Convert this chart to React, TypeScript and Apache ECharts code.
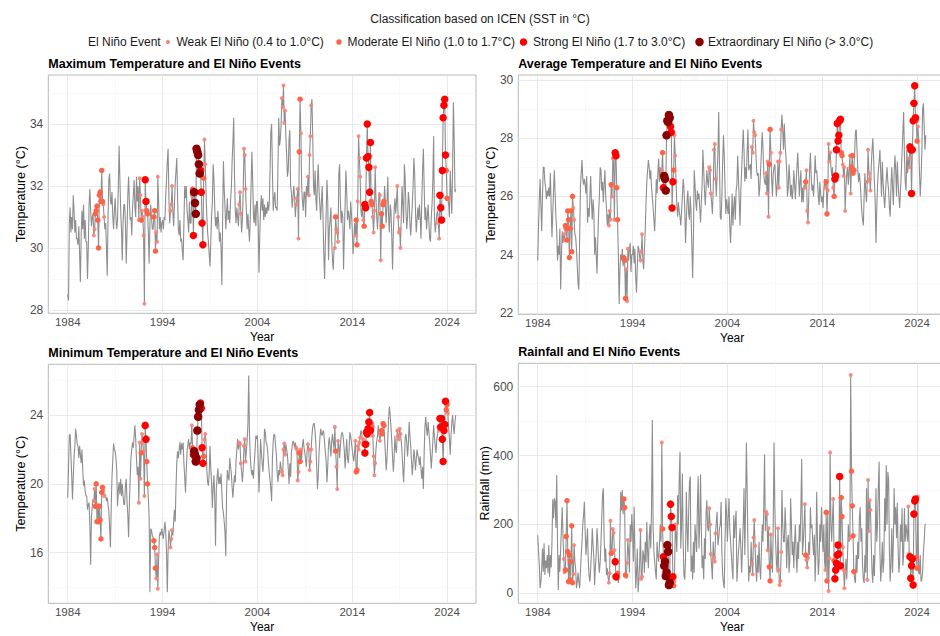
import React, { useEffect, useRef } from "react";
import * as echarts from "echarts";

const FONT = '"Liberation Sans", Arial, Helvetica, sans-serif';
const FIRST_YEAR = 1984;

// ---------- tick labels ----------
const xTicks = [1984, 1994, 2004, 2014, 2024];
const xMinorTicks = [1989, 1999, 2009, 2019];
const tmaxTicks = [28, 30, 32, 34];
const tmaxMinor = [29, 31, 33, 35];
const tavgTicks = [22, 24, 26, 28, 30];
const tavgMinor = [23, 25, 27, 29];
const tminTicks = [16, 20, 24];
const tminMinor = [14, 18, 22, 26];
const rainTicks = [0, 200, 400, 600];
const rainMinor = [100, 300, 500];

// ---------- monthly series, Jan 1984 .. Dec 2024 ----------
const tmax = [
  28.5, 28.3, 30.8, 31.3, 30.5, 31.0, 30.6, 31.7, 31.2, 30.5, 30.9, 30.3,
  30.3, 30.1, 30.7, 29.8, 28.9, 30.4, 31.2, 30.6, 31.4, 30.3, 30.9, 30.2,
  30.2, 29.0, 30.0, 31.4, 31.9, 31.2, 30.7, 31.0, 31.1, 30.4, 30.6, 31.1,
  31.2, 31.35, 30.9, 30.0, 31.7, 31.8, 31.5, 32.5, 31.5, 31.4, 31.0, 30.6,
  30.8, 30.0, 29.1, 31.0, 32.2, 32.4, 31.5, 31.4, 31.8, 31.0, 30.6, 31.2,
  31.6, 31.0, 30.6, 30.9, 32.0, 33.3, 32.2, 31.2, 30.6, 29.6, 30.8, 31.4,
  31.4, 30.8, 29.5, 30.5, 31.7, 32.3, 31.5, 30.9, 31.0, 30.4, 31.3, 31.7,
  32.2, 31.3, 31.0, 32.3, 31.5, 32.0, 30.9, 32.25, 31.7, 30.9, 31.2, 31.0,
  30.4, 28.2, 32.2, 31.5, 31.2, 31.1, 30.5, 29.5, 30.8, 31.4, 31.0, 30.6,
  30.6, 31.0, 31.2, 29.9, 30.5, 30.2, 32.3, 31.5, 30.6, 31.0, 30.5, 30.8,
  30.9, 30.6, 31.0, 30.9, 31.7, 32.2, 32.8, 33.2, 31.6, 30.8, 31.2, 31.4,
  32.0, 31.2, 30.7, 31.4, 32.1, 32.5, 32.9, 31.6, 30.6, 30.4, 30.9, 30.2,
  30.3, 29.9, 29.6, 30.8, 32.0, 31.6, 32.0, 31.2, 30.9, 30.5, 31.5, 30.8,
  30.8, 31.7, 31.9, 30.4, 31.8, 31.45, 31.1, 33.2, 33.1, 33.0, 32.7, 32.4,
  32.5, 31.8, 30.8, 30.1, 32.25, 33.5, 32.7, 31.8, 31.0, 30.5, 30.2, 29.8,
  29.4, 30.2, 31.0, 31.5, 32.7, 32.2, 31.3, 30.7, 31.0, 30.6, 31.2, 30.8,
  30.2, 30.5, 30.0, 28.8, 30.9, 32.8, 31.9, 31.3, 30.6, 31.1, 31.6, 30.9,
  31.2, 30.8, 31.5, 31.9, 32.8, 33.4, 34.2, 32.4, 31.2, 30.8, 31.3, 31.0,
  30.7, 31.4, 31.8, 31.1, 30.5, 30.9, 31.8, 33.2, 33.0, 31.9, 31.2, 30.6,
  31.1, 30.6, 30.2, 31.0, 32.0, 33.1, 32.2, 31.0, 30.8, 31.4, 30.7, 31.5,
  31.5, 30.8, 29.2, 30.4, 31.3, 31.7, 31.2, 31.6, 30.9, 31.4, 31.0, 31.3,
  31.1, 31.5, 31.2, 31.4, 32.5, 33.75, 34.0, 32.5, 31.2, 31.6, 31.8, 31.3,
  31.3, 31.2, 32.6, 34.2, 33.3, 33.5, 34.0, 34.83, 34.54, 35.24, 34.04, 34.43,
  33.6, 33.0, 32.3, 32.5, 33.5, 33.8, 32.0, 31.8, 31.3, 31.6, 32.0, 31.7,
  31.0, 31.4, 31.6, 31.9, 30.3, 33.1, 34.8, 33.7, 32.0, 31.5, 31.2, 31.8,
  31.8, 31.0, 32.0, 31.7, 32.3, 31.7, 33.0, 33.6, 34.6, 34.8, 33.6, 32.0,
  31.7, 32.5, 31.6, 31.2, 32.2, 32.7, 31.8, 31.4, 30.9, 31.5, 32.0, 31.0,
  29.8, 29.0, 30.2, 31.1, 32.2, 31.5, 29.6, 30.6, 30.9, 31.3, 30.2, 29.6,
  29.3, 30.0, 30.0, 31.0, 30.6, 30.5, 30.2, 32.4, 32.7, 31.5, 30.8, 31.2,
  31.0, 29.3, 30.5, 31.4, 32.5, 31.8, 30.9, 31.2, 31.0, 30.6, 31.5, 31.1,
  30.6, 29.8, 30.2, 30.8, 30.4, 30.9, 30.1, 31.5, 33.6, 32.9, 32.3, 31.2,
  31.0, 31.4, 30.9, 30.7, 31.4, 31.3, 32.9, 34.0, 32.95, 32.6, 31.8, 33.4,
  31.5, 31.4, 31.0, 30.5, 31.2, 32.6, 31.6, 31.0, 30.6, 31.2, 31.8, 31.7,
  29.6, 31.1, 30.7, 31.4, 31.5, 32.0, 31.3, 30.8, 31.5, 32.3, 31.0, 30.5,
  31.4, 31.2, 30.4, 29.3, 30.5, 31.2, 31.6, 31.1, 31.5, 32.0, 31.0, 30.5,
  30.6, 30.0, 31.0, 32.0, 31.4, 30.8, 32.7, 32.2, 31.2, 30.6, 31.0, 31.8,
  31.5, 30.8, 30.4, 30.9, 31.4, 32.0, 32.9, 32.4, 31.2, 30.5, 30.9, 31.3,
  30.9, 31.4, 31.0, 30.3, 31.5, 32.5, 33.2, 32.0, 30.9, 31.3, 30.6, 31.0,
  31.4, 30.8, 30.3, 30.2, 31.0, 31.4, 32.2, 33.6, 31.0, 30.5, 30.8, 31.1,
  31.2, 30.8, 30.3, 31.7, 31.3, 30.9, 32.5, 34.2, 34.6, 34.8, 33.0, 32.5,
  31.6, 31.6, 31.4, 31.0, 32.5, 31.8, 31.1, 32.6, 34.7, 33.5, 31.8, 31.9,
];

const tavg = [
  23.8, 25.0, 25.9, 26.6, 25.7, 24.8, 26.0, 27.0, 27.0, 26.5, 26.3, 25.9,
  26.2, 26.0, 26.3, 26.0, 26.8, 25.6, 24.6, 25.4, 26.2, 26.9, 26.1, 25.3,
  24.8, 23.8, 24.3, 24.0, 24.9, 22.8, 24.0, 24.8, 24.4, 24.7, 24.5, 25.0,
  24.9, 24.5, 25.5, 25.2, 23.9, 24.9, 25.5, 24.1, 26.0, 25.6, 25.2, 24.7,
  24.6, 24.2, 23.6, 23.0, 22.8, 24.5, 26.3, 26.8, 27.25, 26.6, 26.4, 26.6,
  26.4, 26.1, 26.7, 25.1, 25.6, 25.3, 26.0, 26.7, 25.8, 25.2, 25.9, 25.5,
  24.0, 24.6, 24.0, 23.35, 24.5, 25.4, 26.0, 27.0, 26.9, 26.2, 26.5, 25.8,
  26.4, 26.9, 26.0, 25.6, 25.0, 25.4, 25.0, 25.5, 25.2, 26.4, 26.0, 27.3,
  27.3, 25.2, 27.5, 27.4, 26.3, 25.2, 24.0, 22.3, 23.5, 24.0, 23.8, 24.2,
  23.6, 23.9, 23.8, 22.5, 23.5, 22.4, 24.2, 23.8, 24.2, 24.4, 23.4, 24.0,
  24.0, 24.3, 23.7, 24.2, 23.2, 22.7, 23.6, 24.3, 24.2, 23.9, 23.8, 24.1,
  24.7, 23.8, 23.5, 24.2, 24.8, 25.8, 26.5, 26.9, 27.25, 27.0, 26.6, 26.9,
  26.3, 26.0, 25.6, 25.2, 24.8, 25.6, 26.6, 26.1, 26.8, 27.3, 26.5, 27.0,
  26.6, 26.9, 27.5, 26.3, 26.7, 26.6, 26.2, 28.1, 28.6, 28.55, 28.8, 28.7,
  28.4, 28.2, 25.6, 26.5, 26.9, 28.1, 27.4, 26.5, 25.7, 25.3, 25.8, 25.5,
  25.3, 25.0, 25.5, 26.0, 26.6, 26.3, 25.6, 24.4, 25.2, 25.9, 26.2, 25.4,
  25.2, 26.0, 25.4, 24.3, 23.2, 24.6, 26.9, 26.4, 25.8, 25.5, 26.2, 25.9,
  26.1, 25.6, 25.1, 25.8, 26.4, 27.6, 26.9, 26.2, 25.7, 26.3, 26.9, 26.5,
  26.3, 27.0, 26.9, 26.1, 25.8, 25.4, 26.2, 27.6, 27.8, 26.6, 26.0, 26.8,
  27.5, 28.9, 27.0, 25.3, 25.2, 26.0, 27.2, 28.1, 27.4, 26.3, 25.4, 25.9,
  25.6, 25.4, 26.0, 25.0, 24.4, 25.2, 26.1, 25.0, 25.6, 26.0, 25.2, 26.2,
  26.4, 27.4, 26.6, 25.8, 25.0, 26.2, 26.9, 27.6, 28.3, 27.6, 26.5, 27.0,
  26.6, 27.6, 28.3, 26.9, 27.0, 27.1, 26.6, 27.7, 27.5, 28.6, 28.2, 28.1,
  27.5, 26.9, 26.7, 26.8, 26.0, 26.3, 26.9, 27.5, 28.2, 27.7, 26.8, 26.5,
  26.4, 26.8, 26.1, 27.2, 25.3, 27.1, 28.3, 27.5, 26.6, 26.0, 26.8, 27.0,
  27.1, 26.5, 26.0, 26.4, 27.2, 26.3, 27.2, 27.5, 28.3, 28.8, 28.3, 27.6,
  28.5, 27.8, 27.4, 26.9, 26.0, 26.3, 27.1, 26.6, 26.0, 26.4, 25.9, 26.2,
  26.9, 26.4, 25.9, 26.5, 27.0, 27.5, 26.8, 26.0, 26.5, 26.9, 25.8, 26.3,
  25.8, 26.4, 26.3, 26.5, 26.9, 25.5, 25.1, 26.0, 26.9, 27.5, 26.7, 26.2,
  26.4, 26.0, 26.6, 27.4, 26.8, 26.9, 26.5, 26.0, 25.7, 26.5, 26.1, 25.8,
  26.0, 25.6, 26.2, 26.6, 26.3, 26.5, 25.4, 26.2, 27.8, 27.2, 27.5, 27.0,
  26.7, 27.0, 26.3, 26.0, 26.6, 26.7, 27.6, 28.5, 27.9, 28.1, 28.6, 28.65,
  27.5, 27.4, 27.1, 26.7, 27.0, 25.5, 26.3, 26.8, 27.0, 26.4, 26.9, 27.4,
  26.1, 27.0, 27.4, 26.8, 26.9, 27.5, 28.2, 28.3, 27.6, 26.9, 26.5, 26.8,
  26.5, 26.0, 25.5, 25.2, 25.0, 26.0, 26.8, 26.2, 25.8, 26.5, 27.6, 26.8,
  26.6, 26.2, 27.0, 27.6, 28.0, 27.3, 26.5, 25.8, 24.4, 25.6, 26.4, 26.9,
  27.2, 27.6, 26.8, 26.0, 27.2, 26.5, 26.0, 25.6, 26.1, 26.6, 27.0, 26.5,
  26.2, 25.6, 25.3, 26.4, 27.0, 26.3, 25.7, 26.8, 27.4, 26.9, 26.0, 27.2,
  26.5, 26.0, 25.6, 26.2, 26.8, 27.5, 28.2, 28.9, 27.4, 26.5, 26.2, 27.6,
  26.8, 27.3, 27.0, 27.7, 27.6, 26.1, 27.6, 28.6, 29.2, 29.8, 28.7, 28.6,
  27.9, 28.4, 28.0, 26.9, 26.0, 26.6, 27.5, 29.0, 29.2, 28.4, 27.6, 28.1,
];

const tmin = [
  19.2, 21.0, 22.8, 22.9, 21.7, 20.5, 19.1, 20.4, 21.6, 22.2, 23.2, 22.8,
  22.3, 22.2, 21.5, 22.2, 21.7, 21.2, 22.0, 20.8, 19.9, 20.2, 19.6, 19.3,
  19.3, 18.5, 18.8, 18.9, 17.6, 15.3, 18.1, 18.7, 19.1, 19.0, 19.7, 18.7,
  20.0, 17.8, 18.7, 17.8, 18.7, 17.9, 16.8, 19.5, 19.8, 19.6, 19.3, 19.4,
  19.3, 19.0, 19.2, 18.8, 18.4, 17.5, 16.3, 18.6, 20.4, 21.4, 22.35, 22.0,
  21.9, 21.5, 20.8, 18.7, 19.6, 20.1, 19.4, 20.3, 19.3, 20.0, 19.3, 18.8,
  18.8, 19.9, 20.3, 19.0, 18.2, 16.9, 18.8, 20.3, 21.5, 22.0, 22.4, 22.1,
  22.8, 23.4, 22.6, 21.4, 20.5, 21.0, 18.9, 22.4, 20.3, 21.8, 22.9, 22.4,
  21.9, 19.3, 23.4, 22.6, 21.3, 20.0, 19.2, 18.0, 13.7, 17.4, 17.3, 17.0,
  16.9, 16.7, 16.3, 15.1, 14.5, 15.9, 13.9, 15.6, 17.0, 17.2, 17.0, 17.4,
  17.1, 16.8, 17.3, 17.8, 17.2, 16.0, 13.7, 16.2, 17.3, 17.0, 16.3, 16.8,
  17.3, 17.0, 17.8, 18.5, 17.8, 19.8, 21.3, 21.9, 21.5, 22.0, 22.45, 21.7,
  22.35, 22.0, 22.4, 21.2, 20.4, 19.5, 20.8, 21.9, 22.3, 22.6, 22.0, 22.4,
  22.3, 23.4, 22.1, 21.7, 21.9, 21.7, 21.3, 21.5, 23.1, 23.9, 24.3, 24.6,
  24.7, 24.4, 22.1, 21.2, 21.6, 22.6, 22.9, 22.4, 20.8, 20.1, 19.9, 20.6,
  22.2, 20.9, 20.1, 18.6, 19.8, 20.5, 19.2, 16.4, 19.7, 20.4, 20.9, 20.0,
  20.4, 20.0, 20.6, 19.5, 18.6, 18.3, 17.8, 17.2, 15.8, 19.6, 20.8, 20.4,
  20.2, 21.5, 21.0, 20.6, 19.8, 19.2, 19.9, 20.5, 20.1, 21.4, 22.0, 22.6,
  22.0, 22.4, 22.3, 21.2, 20.7, 20.1, 20.8, 22.2, 22.6, 21.3, 21.9, 22.5,
  23.5, 26.3, 22.8, 21.6, 20.9, 20.5, 20.8, 20.3, 21.2, 21.9, 22.8, 22.6,
  22.8, 21.4, 19.5, 20.8, 22.6, 21.9, 21.2, 20.7, 21.6, 23.2, 23.0, 22.4,
  22.3, 21.9, 21.2, 20.6, 20.2, 19.7, 19.0, 21.5, 22.5, 22.9, 22.8, 22.2,
  21.7, 20.6, 20.1, 20.8, 20.5, 21.3, 20.9, 20.7, 20.5, 22.0, 22.35, 21.7,
  22.3, 22.0, 21.7, 20.9, 20.0, 21.2, 20.4, 21.8, 22.2, 22.5, 22.4, 22.1,
  22.4, 22.1, 22.0, 20.2, 20.7, 21.8, 21.3, 22.0, 21.4, 22.3, 22.6, 22.1,
  21.8, 21.4, 21.0, 22.0, 22.3, 22.0, 20.8, 21.3, 22.0, 22.8, 23.3, 23.5,
  23.5, 23.0, 22.3, 21.0, 19.7, 20.5, 21.8, 22.6, 23.2, 22.9, 22.8, 23.1,
  23.0, 22.4, 21.8, 21.3, 20.1, 21.0, 22.3, 22.7, 22.2, 21.6, 22.5, 22.9,
  22.4, 22.0, 23.3, 21.9, 21.0, 19.7, 22.5, 22.3, 21.5, 22.2, 22.8, 23.0,
  22.9, 22.5, 21.9, 20.9, 21.8, 22.6, 21.5, 21.2, 22.0, 23.0, 22.8, 22.4,
  22.0, 21.6, 21.3, 21.9, 22.5, 20.7, 20.8, 22.2, 22.0, 22.4, 22.7, 23.1,
  23.0, 22.4, 22.6, 22.3, 21.8, 22.3, 23.0, 22.9, 23.2, 23.6, 24.15, 23.1,
  23.5, 23.3, 22.8, 21.6, 20.5, 21.2, 22.0, 22.5, 22.8, 23.4, 22.8, 22.5,
  22.9, 23.1, 22.9, 23.5, 23.4, 22.6, 21.7, 20.8, 21.5, 22.6, 23.8, 24.5,
  24.0, 23.3, 22.5, 21.6, 20.7, 21.5, 22.8, 22.0, 21.8, 23.1, 22.8, 22.6,
  23.2, 22.9, 22.5, 21.8, 20.9, 20.1, 21.3, 22.7, 22.9, 22.4, 21.6, 22.3,
  23.6, 22.8, 22.2, 21.3, 20.5, 21.2, 22.0, 21.6, 20.8, 21.4, 22.0, 21.7,
  21.5, 21.1, 21.6, 20.8, 20.3, 21.0, 19.7, 21.8, 23.3, 23.9, 23.2, 22.8,
  23.6, 23.0, 22.4, 21.7, 20.9, 21.6, 22.5, 23.4, 22.8, 22.2, 21.8, 22.6,
  22.9, 23.3, 23.1, 23.8, 23.3, 23.8, 22.6, 21.3, 23.1, 23.45, 24.8, 24.3,
  24.6, 24.1, 23.2, 22.6, 21.7, 22.8, 23.6, 24.0, 23.3, 22.9, 23.6, 24.0,
];

const rain = [
  169, 120, 82, 15, 34, 70, 130, 63, 145, 53, 95, 73,
  111, 58, 140, 48, 111, 75, 150, 273, 218, 276, 266, 190,
  343, 150, 10, 111, 63, 130, 190, 250, 160, 100, 61, 68,
  165, 269, 121, 34, 111, 39, 92, 196, 31, 56, 140, 92,
  70, 15, 34, 60, 34, 15, 60, 111, 150, 200, 227, 266,
  180, 111, 150, 189, 92, 50, 34, 73, 120, 189, 140, 102,
  24, 80, 111, 189, 150, 90, 60, 92, 150, 218, 285, 305,
  160, 92, 130, 53, 73, 45, 31, 58, 211, 116, 123, 187,
  176, 125, 92, 48, 45, 58, 30, 60, 180, 295, 240, 300,
  230, 274, 249, 53, 48, 89, 155, 121, 60, 200, 150, 230,
  180, 92, 252, 120, 15, 60, 130, 3, 40, 90, 184, 42,
  48, 125, 111, 60, 150, 90, 208, 120, 73, 160, 200, 130,
  250, 503, 189, 120, 92, 63, 40, 150, 110, 92, 140, 200,
  150, 438, 187, 106, 80, 92, 50, 61, 140, 121, 24, 31,
  259, 223, 191, 48, 22, 34, 200, 169, 120, 285, 200, 330,
  411, 130, 200, 348, 150, 53, 40, 100, 295, 189, 120, 240,
  324, 339, 63, 110, 40, 150, 60, 200, 160, 120, 250, 340,
  130, 203, 345, 189, 73, 110, 40, 160, 100, 230, 270, 190,
  180, 247, 200, 114, 80, 40, 150, 103, 92, 174, 208, 237,
  140, 160, 189, 200, 266, 120, 53, 30, 15, 150, 276, 230,
  150, 220, 276, 189, 150, 111, 73, 40, 227, 160, 208, 240,
  34, 80, 121, 150, 189, 130, 60, 130, 200, 305, 111, 250,
  438, 300, 130, 34, 80, 60, 150, 87, 55, 162, 213, 138,
  70, 34, 111, 60, 150, 73, 40, 120, 200, 150, 250, 404,
  180, 237, 230, 125, 189, 77, 36, 171, 100, 60, 200, 438,
  250, 150, 90, 60, 189, 68, 24, 36, 120, 300, 200, 150,
  150, 250, 189, 73, 150, 170, 60, 100, 276, 200, 111, 150,
  73, 150, 200, 111, 60, 150, 100, 200, 150, 250, 390, 111,
  150, 200, 259, 111, 97, 75, 103, 150, 111, 250, 189, 200,
  150, 111, 170, 34, 120, 295, 150, 53, 90, 200, 150, 250,
  180, 120, 200, 90, 68, 235, 36, 235, 7, 102, 409, 200,
  150, 220, 274, 95, 42, 68, 87, 111, 140, 114, 339, 80,
  278, 223, 134, 68, 15, 63, 100, 40, 111, 200, 150, 160,
  634, 355, 254, 167, 63, 40, 30, 111, 60, 150, 100, 220,
  250, 150, 189, 80, 40, 30, 111, 60, 305, 39, 329, 181,
  270, 242, 150, 60, 30, 111, 50, 150, 305, 150, 200, 310,
  382, 120, 34, 80, 150, 60, 100, 276, 180, 372, 200, 353,
  330, 120, 34, 90, 189, 60, 150, 305, 200, 250, 160, 262,
  130, 60, 92, 200, 150, 247, 80, 111, 247, 150, 200, 180,
  150, 252, 116, 106, 44, 80, 100, 24, 230, 268, 274, 104,
  73, 281, 60, 55, 111, 34, 40, 60, 120, 150, 200, 198,
];

// ---------- El Niño months by ICEN class ("a:b" = consecutive months) ----------
const weakMonths = [
  "1986-10:1986-11", "1987-10:1987-11", "1991-07:1991-09", "1991-11:1992-02",
  "1993-05:1993-07", "1994-11:1995-01", "1997-02", "1998-06:1998-07",
  "2002-02:2002-04", "2002-08:2002-10", "2006-08:2006-12", "2008-02:2008-05",
  "2008-08", "2009-05:2009-09", "2012-03", "2012-05:2012-07", "2014-05",
  "2014-08:2014-11", "2015-03", "2016-03:2016-06", "2016-12:2017-01",
  "2018-10:2019-02", "2023-02:2023-03", "2024-02",
];
const moderateMonths = [
  "1986-12:1987-09", "1991-10", "1992-05:1992-06", "1993-02:1993-04", "1997-03",
  "1998-05", "2008-06:2008-07", "2012-04", "2014-06:2014-07", "2015-04",
  "2016-01:2016-02", "2017-02:2017-05", "2023-12:2024-01",
];
const strongMonths = [
  "1992-03:1992-04", "1997-04", "1998-01:1998-04", "2015-05:2015-12", "2023-04:2023-11",
];
const extraordinaryMonths = ["1997-05:1997-12"];

const classLabels = [
  "Weak El Niño (0.4 to 1.0°C)",
  "Moderate El Niño (1.0 to 1.7°C)",
  "Strong El Niño (1.7 to 3.0°C)",
  "Extraordinary El Niño (> 3.0°C)",
];
const classMonths = [weakMonths, moderateMonths, strongMonths, extraordinaryMonths];
const classColors = ["#F98275", "#FF6347", "#FF0000", "#8B0000"];
const classSizes = [4, 5.5, 7.5, 8.5];

const panelTitles = [
  "Maximum Temperature and El Niño Events",
  "Average Temperature and El Niño Events",
  "Minimum Temperature and El Niño Events",
  "Rainfall and El Niño Events",
];
const yNames = ["Temperature (°C)", "Temperature (°C)", "Temperature (°C)", "Rainfall (mm)"];
const legendTitle = "Classification based on ICEN (SST in °C)";
const legendLead = "El Niño Event";

// ---------- layout (pixels) ----------
const GRIDS = [
  { left: 48.3, top: 75, width: 427.7, height: 238.3 },
  { left: 518.3, top: 75, width: 427.7, height: 239.3 },
  { left: 48.3, top: 364.3, width: 427.7, height: 239 },
  { left: 518.3, top: 363.3, width: 427.7, height: 240 },
];
const Y_RANGES = [
  [27.89, 35.58],
  [21.95, 30.17],
  [13.06, 26.95],
  [-29, 668],
];
const X_MIN = 1981.95;
const X_MAX = 2027.05;

function monthIdx(s: string) {
  const [y, m] = s.split("-").map(Number);
  return (y - FIRST_YEAR) * 12 + (m - 1);
}
function expandMonths(list: string[]) {
  const out: number[] = [];
  list.forEach((item) => {
    const [a, b] = item.split(":");
    const i0 = monthIdx(a);
    const i1 = b ? monthIdx(b) : i0;
    for (let i = i0; i <= i1; i++) out.push(i);
  });
  return out;
}

export default function App() {
  const ref = useRef<HTMLDivElement>(null);

  useEffect(() => {
    if (!ref.current) return;
    const chart = echarts.init(ref.current, undefined, { renderer: "svg" });

    const values = [tmax, tavg, tmin, rain];
    const majorY = [tmaxTicks, tavgTicks, tminTicks, rainTicks];
    const minorY = [tmaxMinor, tavgMinor, tminMinor, rainMinor];
    const monthX = tmax.map((_, k) => FIRST_YEAR + k / 12);
    const eventIdx = classMonths.map(expandMonths);

    const majorLine = { color: "#e6e6e6", width: 0.9, type: "solid" };
    const minorLine = { color: "#f3f3f3", width: 0.6, type: "solid" };

    const series: any[] = [];
    values.forEach((vals, i) => {
      series.push({
        type: "line",
        xAxisIndex: i,
        yAxisIndex: i,
        data: vals.map((v, k) => [monthX[k], v]),
        showSymbol: false,
        symbol: "none",
        lineStyle: { color: "#8e8e8e", width: 1.1 },
        silent: true,
        z: 2,
        markLine: {
          silent: true,
          z: 1,
          symbol: ["none", "none"],
          label: { show: false },
          animation: false,
          data: [
            ...xMinorTicks.map((v) => ({ xAxis: v, lineStyle: minorLine })),
            ...minorY[i].map((v) => ({ yAxis: v, lineStyle: minorLine })),
            ...xTicks.map((v) => ({ xAxis: v, lineStyle: majorLine })),
            ...majorY[i].map((v) => ({ yAxis: v, lineStyle: majorLine })),
          ],
        },
      });
      eventIdx.forEach((idxs, c) => {
        series.push({
          type: "scatter",
          xAxisIndex: i,
          yAxisIndex: i,
          data: idxs.map((k) => [monthX[k], vals[k]]),
          symbol: "circle",
          symbolSize: classSizes[c],
          itemStyle: { color: classColors[c], opacity: c === 0 ? 0.9 : 1 },
          silent: true,
          z: 3 + c,
        });
      });
    });

    const textBase = { fill: "#1a1a1a", fontFamily: FONT, fontSize: 12 };
    const legendDotX = [168, 339, 523.5, 699.5];
    const legendTextX = [176.5, 347.5, 533, 708];
    const graphic: any[] = [
      {
        type: "text",
        x: 480,
        y: 19,
        style: { ...textBase, text: legendTitle, textAlign: "center", align: "center", textVerticalAlign: "middle", verticalAlign: "middle" },
      },
      {
        type: "text",
        x: 88,
        y: 42,
        style: { ...textBase, text: legendLead, textAlign: "left", align: "left", textVerticalAlign: "middle", verticalAlign: "middle" },
      },
    ];
    classLabels.forEach((lab, c) => {
      graphic.push({
        type: "circle",
        shape: { cx: legendDotX[c], cy: 42, r: classSizes[c] / 2 },
        style: { fill: classColors[c] },
      });
      graphic.push({
        type: "text",
        x: legendTextX[c],
        y: 42,
        style: { ...textBase, text: lab, textAlign: "left", align: "left", textVerticalAlign: "middle", verticalAlign: "middle" },
      });
    });
    panelTitles.forEach((t, i) => {
      graphic.push({
        type: "text",
        x: GRIDS[i].left,
        y: GRIDS[i].top - 11,
        style: {
          ...textBase,
          fill: "#000",
          fontWeight: "bold",
          fontSize: 12.5,
          text: t,
          textAlign: "left",
          align: "left",
          textVerticalAlign: "middle",
          verticalAlign: "middle",
        },
      });
    });

    const option: any = {
      animation: false,
      backgroundColor: "#ffffff",
      textStyle: { fontFamily: FONT },
      grid: GRIDS.map((g) => ({
        ...g,
        show: true,
        borderColor: "#b8b8b8",
        borderWidth: 1,
        backgroundColor: "transparent",
        containLabel: false,
        outerBoundsMode: "none",
      })),
      xAxis: GRIDS.map((_, i) => ({
        type: "value",
        gridIndex: i,
        min: X_MIN,
        max: X_MAX,
        axisLine: { show: false },
        axisTick: { show: false, customValues: xTicks },
        splitLine: { show: false },
        axisLabel: {
          customValues: xTicks,
          formatter: (v: number) => String(Math.round(v)),
          color: "#4d4d4d",
          fontSize: 11.5,
          margin: 3,
          fontFamily: FONT,
        },
        name: "Year",
        nameLocation: "middle",
        nameGap: 17.5,
        nameMoveOverlap: false,
        nameTextStyle: { color: "#000", fontSize: 12, fontFamily: FONT },
      })),
      yAxis: GRIDS.map((_, i) => ({
        type: "value",
        gridIndex: i,
        min: Y_RANGES[i][0],
        max: Y_RANGES[i][1],
        axisLine: { show: false },
        axisTick: { show: false, customValues: majorY[i] },
        splitLine: { show: false },
        axisLabel: {
          customValues: majorY[i],
          formatter: (v: number) => String(Math.round(v)),
          color: "#4d4d4d",
          fontSize: 12,
          margin: 5,
          fontFamily: FONT,
        },
        name: yNames[i],
        nameLocation: "middle",
        nameGap: i === 3 ? 27 : 21,
        nameRotate: 90,
        nameMoveOverlap: false,
        nameTextStyle: { color: "#000", fontSize: 12.5, fontFamily: FONT },
      })),
      series,
      graphic,
    };

    chart.setOption(option);
    return () => chart.dispose();
  }, []);

  return (
    <div
      ref={ref}
      style={{ position: "fixed", left: 0, top: 0, width: 940, height: 636, background: "#fff" }}
    />
  );
}
